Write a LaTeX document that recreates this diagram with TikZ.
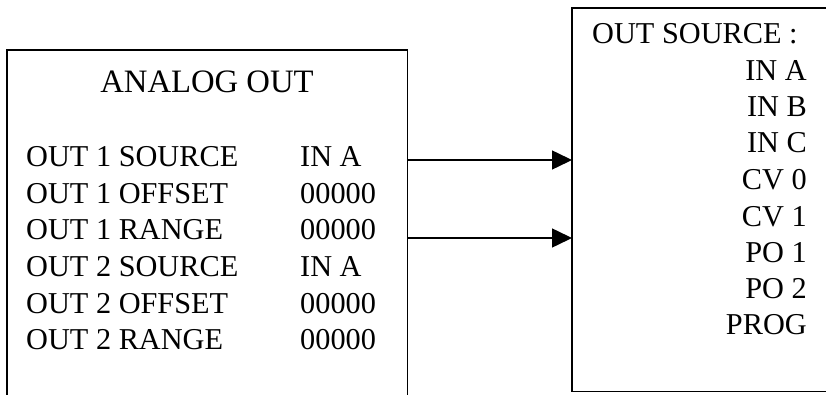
\documentclass[tikz,border=0pt]{standalone}
\usepackage{fontspec}
\setmainfont{Liberation Serif}
\usetikzlibrary{arrows.meta}
\tikzset{
  boxline/.style={line width=1.5pt, line join=miter},
  frame/.style={draw=none, inner sep=0, anchor=north west},
  lefttext/.style={font=\fontsize{30.3}{36}\selectfont, inner sep=0, anchor=base west},
  righttext/.style={font=\fontsize{30.3}{36}\selectfont, inner sep=0, anchor=base east},
  titletext/.style={font=\fontsize{32.7}{38}\selectfont, inner sep=0, anchor=base},
  link/.style={line width=1.5pt, -{Triangle[length=20pt,width=19pt]}}
}
\begin{document}
\begin{tikzpicture}[x=1pt,y=-1pt]
\useasboundingbox (0,0) rectangle (826,395);
\clip (0,0) rectangle (826,395);
% frames (bounding nodes)
\node[frame, minimum width=400pt, minimum height=360pt] (abox) at (7,50) {};
\node[frame, minimum width=280pt, minimum height=383pt] (sbox) at (572,8) {};
\draw[boxline] (abox.south west) -- (abox.north west) -- (abox.north east) -- (abox.south east);
\draw[boxline] (sbox.north east) -- (sbox.north west) -- (sbox.south west) -- (sbox.south east);
% left box text
\node[titletext] (title) at (207,93) {ANALOG OUT};
\node[lefttext] (l1) at (26,167) {OUT 1 SOURCE};
\node[lefttext] (l2) at (26,203.5) {OUT 1 OFFSET};
\node[lefttext] (l3) at (26,240) {OUT 1 RANGE};
\node[lefttext] (l4) at (26,276.5) {OUT 2 SOURCE};
\node[lefttext] (l5) at (26,313) {OUT 2 OFFSET};
\node[lefttext] (l6) at (26,349.5) {OUT 2 RANGE};
\node[lefttext] (v1) at (300,167) {IN A};
\node[lefttext] (v2) at (300,203.5) {00000};
\node[lefttext] (v3) at (300,240) {00000};
\node[lefttext] (v4) at (300,276.5) {IN A};
\node[lefttext] (v5) at (300,313) {00000};
\node[lefttext] (v6) at (300,349.5) {00000};
% right box text
\node[lefttext] (st) at (592,44) {OUT SOURCE :};
\node[righttext] (s1) at (807,80.5) {IN A};
\node[righttext] (s2) at (807,117) {IN B};
\node[righttext] (s3) at (807,153) {IN C};
\node[righttext] (s4) at (807,189.5) {CV 0};
\node[righttext] (s5) at (807,226) {CV 1};
\node[righttext] (s6) at (807,262) {PO 1};
\node[righttext] (s7) at (807,298) {PO 2};
\node[righttext] (s8) at (807,334) {PROG};
% connectors
\coordinate (y1) at (0,160);
\coordinate (y2) at (0,238);
\draw[link] (abox.east |- y1) -- (sbox.west |- y1);
\draw[link] (abox.east |- y2) -- (sbox.west |- y2);
\end{tikzpicture}
\end{document}
